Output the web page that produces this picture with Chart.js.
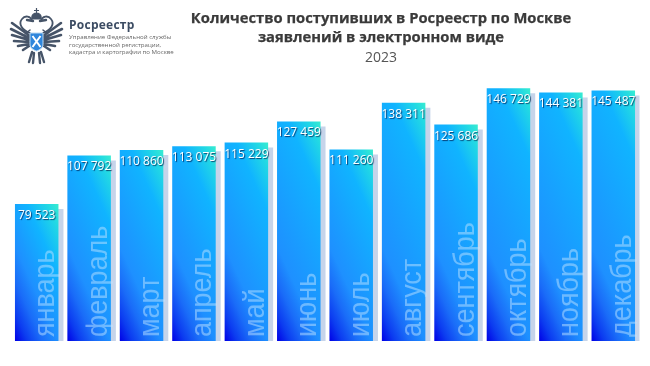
<!DOCTYPE html>
<html lang="ru">
<head>
    <meta charset="UTF-8">
    <title>Росреестр 2023</title>
    <script src="https://cdn.jsdelivr.net/npm/chart.js"></script>
    <style>
        body { margin: 0; background: #fff; font-family: "Open Sans", sans-serif; }
        #wrap { position: relative; width: 650px; height: 366px; overflow: hidden; }
        #chart { position: absolute; left: 0; top: 0; }
        .title { position: absolute; left: 141px; width: 480px; text-align: center; color: #3a3a3a; white-space: nowrap; }
        .t1 { font: bold 14.75px "Open Sans", sans-serif; line-height: 20px; -webkit-text-stroke: 0.25px #3a3a3a; }
        .brand { position: absolute; left: 69px; top: 16px; font: bold 12px "Open Sans", sans-serif; color: #3c4c63; letter-spacing: .25px; }
        .sub { position: absolute; left: 69px; top: 33px; font: 6.1px/7.7px "Open Sans", sans-serif; color: #666; white-space: nowrap; }
        svg { position: absolute; left: 0; top: 0; }
    </style>
</head>
<body>
<div id="wrap">
    <canvas id="chart" width="650" height="366"></canvas>
    <svg width="70" height="70" viewBox="0 0 70 70">
        <defs>
            <g id="half" fill="none" stroke="#465468" stroke-linecap="round">
                <path d="M30 36 L12 23 M29 38 L11 29 M29 40 L12 35 M29 42 L14 41 M29 44 L18 46 M29 46 L23 50" stroke-width="2.6"/>
                <path d="M30 33 C22 30 18 24 22 19 C25 15 31 16 32 21" stroke-width="1.8"/>
                <path d="M33 21 L27 20" stroke-width="2.4"/>
                <path d="M32 52 L29 62 M34 53 L33 63" stroke-width="2.4"/>
                <path d="M30 30 L25 34" stroke-width="1.4"/>
            </g>
        </defs>
        <use href="#half"/>
        <use href="#half" transform="translate(73 0) scale(-1 1)"/>
        <path d="M36.5 8 V19 M34 10.5 H39 M32 19 C31 14 35 13 36.5 13 C38 13 42 14 41 19 Z" fill="#465468" stroke="#465468" stroke-width="1.2"/>
        <path d="M30 33 H43 V44 C43 48 39.5 50 36.5 51 C33.5 50 30 48 30 44 Z" fill="#2f86dc" stroke="#b9d8f2" stroke-width="1"/>
        <path d="M32.5 36 L40.5 47 M40.5 36 L32.5 47" stroke="#fff" stroke-width="2"/>
    </svg>
    <div class="brand">Росреестр</div>
    <div class="sub">Управление Федеральной службы<br>государственной регистрации,<br>кадастра и картографии по Москве</div>
    <div class="title t1" style="top:7px">Количество поступивших в Росреестр по Москве</div>
    <div class="title t1" style="top:26px">заявлений в электронном виде</div>
    <div class="title" style="top:47px;font:14px 'Open Sans',sans-serif;color:#555">2023</div>
</div>
<script>
    const months = ['январь', 'февраль', 'март', 'апрель', 'май', 'июнь', 'июль', 'август', 'сентябрь', 'октябрь', 'ноябрь', 'декабрь'];
    const applications = [79523, 107792, 110860, 113075, 115229, 127459, 111260, 138311, 125686, 146729, 144381, 145487];

    const barHalf = 21.7;

    // diagonal fill, one gradient per bar, leaning more sideways than up
    function barGradient(context) {
        const chart = context.chart;
        if (!chart.chartArea || context.dataIndex === undefined) return '#1e90ff';
        const x = chart.scales.x.getPixelForValue(context.dataIndex);
        const top = chart.scales.y.getPixelForValue(applications[context.dataIndex]);
        const bottom = chart.scales.y.getPixelForValue(0);
        const w = barHalf * 2;
        const h = bottom - top;
        const a = 2.2;
        const s = (a * w + h) / (a * a + 1);
        const g = chart.ctx.createLinearGradient(x - barHalf, bottom, x - barHalf + a * s, bottom - s);
        const len = a * w + h;
        g.addColorStop(0, '#0000e6');
        g.addColorStop(28 / len, '#0c3cf0');
        g.addColorStop(60 / len, '#1a6cf8');
        g.addColorStop(95 / len, '#1e90ff');
        g.addColorStop(1 - 70 / len, '#10b4ff');
        g.addColorStop(1 - 25 / len, '#22d8e4');
        g.addColorStop(1, '#38ecd0');
        return g;
    }

    // flat offset shadow behind the bars
    const barShadow = {
        id: 'barShadow',
        beforeDatasetDraw(chart) {
            const ctx = chart.ctx;
            ctx.save();
            ctx.shadowColor = '#c6d4ea';
            ctx.shadowOffsetX = 5;
            ctx.shadowOffsetY = 5;
            ctx.shadowBlur = 0;
        },
        afterDatasetDraw(chart) {
            chart.ctx.restore();
        }
    };

    // month names rotated inside the bars, values on top of them
    const barLabels = {
        id: 'barLabels',
        afterDatasetsDraw(chart) {
            const ctx = chart.ctx;
            const bars = chart.getDatasetMeta(0).data;
            const bottom = chart.scales.y.getPixelForValue(0);
            bars.forEach((bar, i) => {
                ctx.save();
                ctx.translate(bar.x + 17.5, bottom - 4);
                ctx.rotate(-Math.PI / 2);
                ctx.scale(0.93, 1);
                ctx.font = '29px "Liberation Sans", Arial, sans-serif';
                ctx.fillStyle = 'rgba(190, 225, 255, 0.5)';
                ctx.textAlign = 'left';
                ctx.textBaseline = 'alphabetic';
                ctx.fillText(months[i], 0, 0);
                ctx.restore();

                ctx.save();
                ctx.font = '12px "Open Sans", sans-serif';
                ctx.textAlign = 'center';
                ctx.textBaseline = 'middle';
                ctx.shadowColor = 'rgba(0, 20, 70, 0.75)';
                ctx.shadowOffsetX = 1;
                ctx.shadowOffsetY = 1;
                ctx.shadowBlur = 1;
                ctx.fillStyle = '#fff';
                ctx.fillText(applications[i].toLocaleString('ru-RU').replace(/\s/g, ' '), bar.x, bar.y + 11.5);
                ctx.restore();
            });
        }
    };

    new Chart(document.getElementById('chart'), {
        type: 'bar',
        data: {
            labels: months,
            datasets: [{
                data: applications,
                backgroundColor: barGradient,
                categoryPercentage: 1,
                barPercentage: 0.83
            }]
        },
        options: {
            responsive: false,
            animation: false,
            layout: { padding: { left: 10.5, right: 10.5, top: 65.5, bottom: 25 } },
            plugins: { legend: { display: false }, tooltip: { enabled: false } },
            scales: {
                x: { display: false },
                y: { display: false, min: 0, max: 160000 }
            }
        },
        plugins: [barShadow, barLabels]
    });
</script>
</body>
</html>
